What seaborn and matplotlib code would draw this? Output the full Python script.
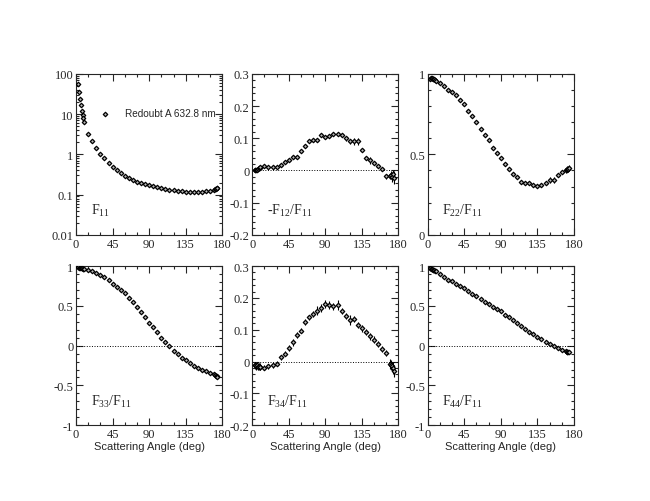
import numpy as np
import pandas as pd
import matplotlib
matplotlib.use('Agg')
import matplotlib.pyplot as plt
import seaborn as sns
from matplotlib.ticker import MultipleLocator, LogLocator, NullFormatter, FixedLocator

sns.set_style('ticks')
plt.rcParams['font.family'] = ['Liberation Serif', 'DejaVu Serif']
plt.rcParams['mathtext.fontset'] = 'custom'
plt.rcParams['mathtext.rm'] = 'Liberation Serif'
plt.rcParams['mathtext.it'] = 'Liberation Serif'

# scattering angles (deg)
angle = [3, 4, 5, 6, 7, 8, 9, 10, 15, 20, 25, 30, 35, 40, 45, 50, 55, 60, 65, 70,
         75, 80, 85, 90, 95, 100, 105, 110, 115, 120, 125, 130, 135, 140, 145, 150,
         155, 160, 165, 170, 171, 172, 173, 174]

f11 = [55, 36, 24, 17, 12, 9.5, 7.8, 6.5, 3.2, 2.1, 1.45, 1.03, 0.80, 0.62, 0.49,
       0.41, 0.35, 0.295, 0.26, 0.235, 0.21, 0.195, 0.18, 0.172, 0.163, 0.155, 0.147,
       0.14, 0.134, 0.127, 0.122, 0.12, 0.119, 0.118, 0.118, 0.118, 0.119, 0.121,
       0.126, 0.134, 0.138, 0.142, 0.145, 0.147]

f12 = [0.0, 0.001, 0.003, 0.002, 0.006, 0.008, 0.009, 0.01, 0.013, 0.011, 0.011,
       0.011, 0.017, 0.025, 0.034, 0.041, 0.043, 0.062, 0.075, 0.092, 0.095, 0.095,
       0.11, 0.104, 0.107, 0.113, 0.113, 0.11, 0.10, 0.09, 0.09, 0.09, 0.065, 0.039,
       0.031, 0.022, 0.013, 0.005, -0.018, -0.017, -0.015, -0.02, -0.012, -0.022]
f12_err = [0.004, 0.004, 0.004, 0.004, 0.004, 0.004, 0.004, 0.004, 0.004, 0.004,
           0.004, 0.004, 0.004, 0.005, 0.005, 0.005, 0.005, 0.005, 0.005, 0.005,
           0.006, 0.006, 0.006, 0.007, 0.006, 0.006, 0.006, 0.007, 0.008, 0.009,
           0.01, 0.01, 0.006, 0.006, 0.01, 0.006, 0.006, 0.006, 0.008, 0.008, 0.012,
           0.015, 0.015, 0.02]

f22 = [0.97, 0.975, 0.975, 0.97, 0.97, 0.965, 0.96, 0.955, 0.944, 0.925, 0.90,
       0.89, 0.87, 0.84, 0.81, 0.77, 0.74, 0.70, 0.66, 0.62, 0.59, 0.54, 0.51, 0.48,
       0.44, 0.41, 0.38, 0.36, 0.33, 0.32, 0.32, 0.31, 0.305, 0.31, 0.32, 0.34, 0.34,
       0.375, 0.39, 0.40, 0.405, 0.41, 0.41, 0.415]
f22_err = [0.01, 0.01, 0.01, 0.01, 0.01, 0.01, 0.01, 0.01, 0.008, 0.008, 0.008,
           0.008, 0.008, 0.008, 0.008, 0.008, 0.008, 0.008, 0.008, 0.008, 0.008,
           0.008, 0.008, 0.008, 0.008, 0.008, 0.008, 0.008, 0.01, 0.01, 0.01, 0.01,
           0.01, 0.01, 0.01, 0.02, 0.02, 0.01, 0.01, 0.015, 0.015, 0.02, 0.02, 0.02]

f33 = [0.99, 0.98, 0.975, 0.97, 0.97, 0.965, 0.96, 0.96, 0.95, 0.935, 0.915, 0.89,
       0.86, 0.82, 0.78, 0.74, 0.70, 0.66, 0.60, 0.55, 0.48, 0.42, 0.355, 0.285, 0.23,
       0.17, 0.10, 0.05, -0.01, -0.07, -0.11, -0.15, -0.18, -0.22, -0.25, -0.28,
       -0.30, -0.32, -0.34, -0.36, -0.37, -0.38, -0.385, -0.39]

f34 = [-0.01, -0.012, -0.015, -0.01, -0.018, -0.015, -0.017, -0.016, -0.02, -0.015,
       -0.012, -0.007, 0.013, 0.024, 0.043, 0.06, 0.083, 0.097, 0.125, 0.139, 0.15,
       0.16, 0.168, 0.18, 0.177, 0.173, 0.177, 0.158, 0.144, 0.13, 0.133, 0.115,
       0.104, 0.092, 0.079, 0.069, 0.056, 0.04, 0.027, -0.007, -0.01, -0.015, -0.02,
       -0.03]
f34_err = [0.01, 0.01, 0.01, 0.01, 0.01, 0.01, 0.01, 0.01, 0.008, 0.008, 0.008,
           0.008, 0.008, 0.008, 0.01, 0.01, 0.01, 0.008, 0.01, 0.008, 0.01, 0.015,
           0.012, 0.012, 0.012, 0.012, 0.015, 0.01, 0.01, 0.015, 0.01, 0.01, 0.01,
           0.01, 0.01, 0.01, 0.01, 0.01, 0.01, 0.015, 0.015, 0.015, 0.02, 0.02]

f44 = [0.97, 0.965, 0.96, 0.955, 0.95, 0.945, 0.94, 0.935, 0.90, 0.86, 0.83, 0.81,
       0.77, 0.75, 0.72, 0.69, 0.655, 0.62, 0.585, 0.55, 0.52, 0.49, 0.46, 0.43,
       0.39, 0.355, 0.32, 0.28, 0.245, 0.21, 0.17, 0.14, 0.11, 0.08, 0.05, 0.02,
       -0.01, -0.03, -0.05, -0.07, -0.075, -0.08, -0.08, -0.08]

df = pd.DataFrame({'angle': angle, 'f11': f11, 'f12': f12, 'f22': f22,
                   'f33': f33, 'f34': f34, 'f44': f44})

panels = [
    ('f11', None, r'F$_{11}$', 'log', (0.01, 100)),
    ('f12', f12_err, r'-F$_{12}$/F$_{11}$', 'pm', (-0.2, 0.3)),
    ('f22', f22_err, r'F$_{22}$/F$_{11}$', 'unit', (0, 1)),
    ('f33', None, r'F$_{33}$/F$_{11}$', 'full', (-1, 1)),
    ('f34', f34_err, r'F$_{34}$/F$_{11}$', 'pm', (-0.2, 0.3)),
    ('f44', None, r'F$_{44}$/F$_{11}$', 'full', (-1, 1)),
]

fig = plt.figure(figsize=(6.5, 5.02), dpi=100)
lefts = [0.117, 0.388, 0.658]
bottoms = [0.530, 0.151]
heights = [0.321, 0.317]

for i, (col, err, lab, kind, ylim) in enumerate(panels):
    r, c = divmod(i, 3)
    ax = fig.add_axes([lefts[c], bottoms[r], 0.225, heights[r]])
    if kind == 'log':
        ax.set_yscale('log')
    if kind in ('pm', 'full'):
        ax.axhline(0, color='black', lw=0.7, ls=':', zorder=1)
    if err is not None:
        ax.errorbar(df['angle'], df[col], yerr=err, fmt='none', ecolor='black',
                    elinewidth=0.8, zorder=2)
    sns.scatterplot(data=df, x='angle', y=col, ax=ax, marker='D', s=5,
                    color='#bbbbbb', edgecolor='black', linewidth=0.9, zorder=3,
                    label='Redoubt A 632.8 nm' if i == 0 else None, legend=False)
    ax.set_xlim(0, 180)
    ax.set_ylim(*ylim)
    ax.xaxis.set_major_locator(MultipleLocator(45))
    ax.xaxis.set_minor_locator(MultipleLocator(15))
    if kind == 'log':
        ax.yaxis.set_major_locator(FixedLocator([0.01, 0.1, 1, 10, 100]))
        ax.set_yticklabels(['0.01', '0.1', '1', '10', '100'])
        ax.yaxis.set_minor_locator(LogLocator(base=10, subs=np.arange(2, 10)))
        ax.yaxis.set_minor_formatter(NullFormatter())
    elif kind == 'pm':
        ax.yaxis.set_major_locator(MultipleLocator(0.1))
        ax.yaxis.set_minor_locator(MultipleLocator(0.02))
        ax.set_yticks([-0.2, -0.1, 0, 0.1, 0.2, 0.3])
        ax.set_yticklabels(['-0.2', '-0.1', '0', '0.1', '0.2', '0.3'])
    elif kind == 'unit':
        ax.set_yticks([0, 0.5, 1])
        ax.set_yticklabels(['0', '0.5', '1'])
        ax.yaxis.set_minor_locator(MultipleLocator(0.1))
    else:
        ax.set_yticks([-1, -0.5, 0, 0.5, 1])
        ax.set_yticklabels(['-1', '-0.5', '0', '0.5', '1'])
        ax.yaxis.set_minor_locator(MultipleLocator(0.1))
    ax.set_xticks([0, 45, 90, 135, 180])
    ax.set_xticklabels(['0', '45', '90', '135', '180'])
    ax.tick_params(which='both', direction='in', top=True, right=True,
                   labelsize=9, pad=2, width=0.8)
    ax.tick_params(which='major', length=5)
    ax.tick_params(which='minor', length=2.5)
    for s in ax.spines.values():
        s.set_linewidth(0.8)
    ax.set_ylabel('')
    if r == 1:
        ax.set_xlabel('Scattering Angle (deg)', family='Liberation Sans',
                      fontsize=8, labelpad=1)
    else:
        ax.set_xlabel('')
    ax.text(0.1, 0.13, lab, transform=ax.transAxes, fontsize=10)
    if i == 0:
        ax.legend(loc='upper right', bbox_to_anchor=(1.0, 0.83), frameon=False,
                  prop={'family': 'Liberation Sans', 'size': 7.2},
                  handletextpad=1.0, borderpad=0.2, markerscale=1.0)

fig.savefig('out.png', dpi=100)
